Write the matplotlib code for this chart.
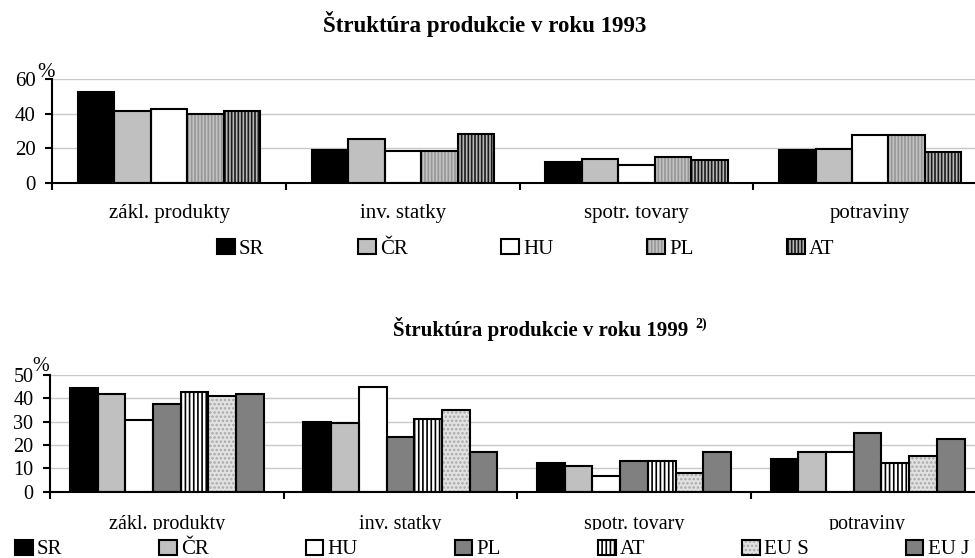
import matplotlib.pyplot as plt
from matplotlib.patches import Rectangle

plt.rcParams['font.family'] = ['Liberation Serif', 'DejaVu Serif']
plt.rcParams['hatch.linewidth'] = 1.2

categories = ["zákl. produkty", "inv. statky", "spotr. tovary", "potraviny"]

# 1993
names_1993 = ["SR", "ČR", "HU", "PL", "AT"]
sr_1993 = [52.5, 19, 12, 19]
cr_1993 = [41.5, 25.5, 14, 19.5]
hu_1993 = [42.5, 18.5, 10.5, 27.5]
pl_1993 = [39.5, 18.5, 15, 27.5]
at_1993 = [41.5, 28, 13, 17.5]

# 1999
names_1999 = ["SR", "ČR", "HU", "PL", "AT", "EU S", "EU J"]
sr_1999 = [44.3, 29.7, 12.1, 14]
cr_1999 = [41.7, 29.3, 11.1, 16.9]
hu_1999 = [30.7, 45, 6.7, 16.9]
pl_1999 = [37.7, 23.4, 13, 25]
at_1999 = [42.7, 31.3, 13, 12.3]
eus_1999 = [41, 35, 8, 15.3]
euj_1999 = [41.9, 17.1, 17.1, 22.6]

# (facecolor, hatch, hatch colour)
styles_1993 = [("black", None, "black"),
               ("#c0c0c0", None, "#c0c0c0"),
               ("white", None, "white"),
               ("#c4c4c4", "|||||", "#969696"),
               ("#b8b8b8", "|||||", "#1a1a1a")]
styles_1999 = [("black", None, "black"),
               ("#c0c0c0", None, "#c0c0c0"),
               ("white", None, "white"),
               ("#808080", None, "#808080"),
               ("white", "||||", "black"),
               ("#e2e2e2", "....", "#a8a8a8"),
               ("#808080", None, "#808080")]

W, H = 975, 558
fig = plt.figure(figsize=(W / 100, H / 100), dpi=100)


def panel(rect, series, names, styles, group, ymax, ystep, fs, label_pad, pct_off):
    ax = fig.add_axes(rect)
    n = len(series)
    w = group / n
    handles = []
    for j, (vals, st) in enumerate(zip(series, styles)):
        xs = [i + (j - (n - 1) / 2) * w for i in range(len(vals))]
        fc, hatch, hc = st
        b1 = ax.bar(xs, vals, w, color=fc, hatch=hatch, edgecolor=hc,
                    linewidth=0, zorder=2)
        b2 = ax.bar(xs, vals, w, fill=False, edgecolor="black",
                    linewidth=1.5, zorder=3)
        handles.append((b1, b2))
    ax.set_xlim(-0.5, 3.5)
    ax.set_ylim(0, ymax)
    ax.set_yticks(range(0, ymax + 1, ystep))
    ax.set_xticks([-0.5, 0.5, 1.5, 2.5, 3.5])
    ax.set_xticklabels([])
    ax.set_xticks(range(len(categories)), minor=True)
    ax.set_xticklabels(categories, minor=True)
    ax.tick_params(axis="x", which="major", length=5, width=1.5, direction="out")
    ax.tick_params(axis="x", which="minor", length=0, pad=label_pad, labelsize=fs)
    ax.tick_params(axis="y", length=5, width=1.5, pad=7, labelsize=fs)
    ax.grid(axis="y", color="#c8c8c8", linewidth=1)
    ax.set_axisbelow(True)
    for s in ["top", "right"]:
        ax.spines[s].set_visible(False)
    for s in ["left", "bottom"]:
        ax.spines[s].set_linewidth(1.5)
        ax.spines[s].set_zorder(4)
    ax.annotate("%", xy=(0, 1), xycoords="axes fraction", xytext=pct_off,
                textcoords="offset points", ha="center", va="center", fontsize=fs)
    return ax, handles


ax1, h1 = panel([52.3 / W, 1 - 182.7 / H, 4 * 233.7 / W, 103.7 / H],
                [sr_1993, cr_1993, hu_1993, pl_1993, at_1993],
                names_1993, styles_1993, 0.78, 60, 20, 15, 15.5, (-4.5, 5))
ax2, h2 = panel([50 / W, 1 - 491.7 / H, 4 * 233.6 / W, 116.7 / H],
                [sr_1999, cr_1999, hu_1999, pl_1999, at_1999, eus_1999, euj_1999],
                names_1999, styles_1999, 0.83, 50, 10, 14.5, 17, (-7, 6))

fig.text(485 / W, 1 - 32.3 / H, "Štruktúra produkcie v roku 1993",
         ha="center", va="baseline", fontsize=16.5, fontweight="bold")
t2 = fig.text(541 / W, 1 - 335.7 / H, "Štruktúra produkcie v roku 1999",
              ha="center", va="baseline", fontsize=15, fontweight="bold")
fig.canvas.draw()
bb = t2.get_window_extent()
fig.text((bb.x1 + 7) / W, 1 - 328 / H, "2)", ha="left", va="baseline",
         fontsize=10, fontweight="bold")

# white strip that hides the lower part of the 1999 category labels
fig.patches.append(Rectangle((0, 0), 1, 28 / H, transform=fig.transFigure,
                             facecolor="white", edgecolor="none", zorder=1))

leg_kw = dict(frameon=False, borderpad=0, borderaxespad=0,
              handlelength=0.85, handleheight=0.75, handletextpad=0.2,
              fontsize=15)
fig.legend(h1, names_1993, loc="center left", ncol=5,
           bbox_to_anchor=(217 / W, 1 - 249 / H), columnspacing=4.5, **leg_kw)
fig.legend(h2, names_1999, loc="center left", ncol=7,
           bbox_to_anchor=(15 / W, 1 - 549.5 / H), columnspacing=4.65, **leg_kw)

fig.savefig("out.png", dpi=100)
